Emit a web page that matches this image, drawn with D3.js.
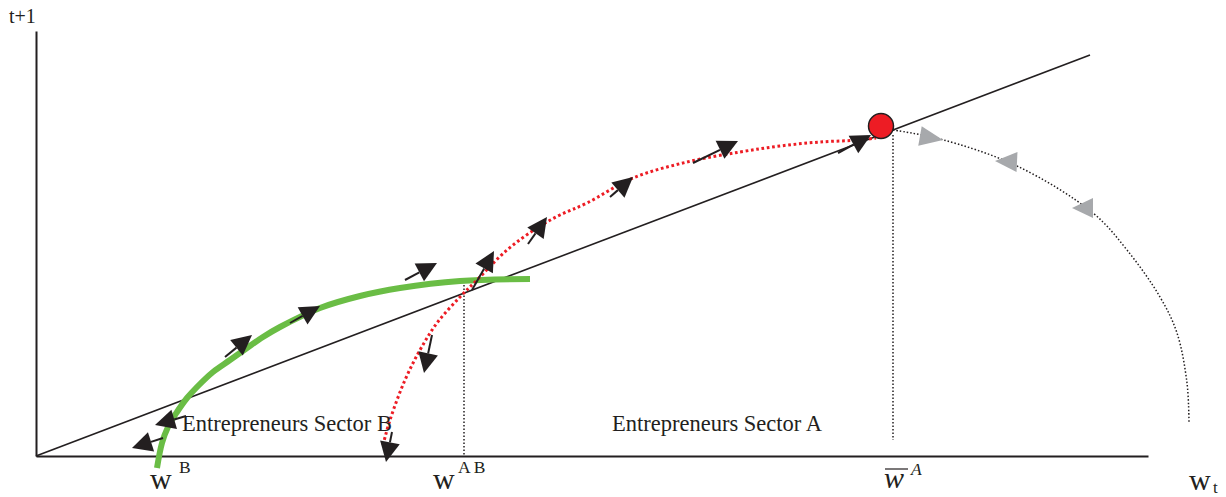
<!DOCTYPE html>
<html><head><meta charset="utf-8">
<script src="https://cdn.jsdelivr.net/npm/d3@7"></script>
<style>body{margin:0;background:#fff}svg{display:block}</style>
</head><body><svg id="c" width="1226" height="497"></svg>
<script>
// ---- data (arbitrary diagram units) ----
const xDomain = [0, 1112];
const yDomain = [0, 425];
const diagonal = [[0, 0], [1054, 401]];
const greenCurve = [[121,-12],[126,13],[132,29],[141,44],[151,58],[161,69],[177,84],[194,96],[211,108],[227,119],[244,129],[284,148],[324,160],[364,168],[424,175],[494,177]];
const redCurve = [[347,11],[354,36],[369,76],[384,106],[401,133],[424,159],[441,176],[471,206],[501,228],[524,241],[551,253],[597,278],[651,294],[704,304],[744,310],[784,314],[824,316],[840,318]];
const grayCurve = [[857,326],[904,317],[981,290],[1057,243],[1091,206],[1124,159],[1141,123],[1151,73],[1153,34]];
const steadyState = [845, 330];
const dropLines = [[[857, 321], [857, 16]], [[428, 171], [428, 0]]];
// [tailX, tailY, tipX, tipY]
const blackArrows = [
  [802,303,835,321],[657,293,702,315],[574,259,597,279],[492,212,511,239],
  [436,166,458,205],[369,176,401,193],[396,121,388,83],[189,99,216,121],
  [254,133,284,150],[150,40,119,31],[127,18,96,8],[356,24,350,-6]
];
// [baseX, baseY, tipX, tipY]
const grayArrows = [[884,320,907,316],[981,294,959,295],[1057,248,1036,248]];
const sectorLabels = ["Entrepreneurs Sector B", "Entrepreneurs Sector A"];

const svg = d3.select("#c");
const x = d3.scaleLinear().domain(xDomain).range([36, 1148]);
const y = d3.scaleLinear().domain(yDomain).range([456, 31]);
const ink = "#231f20";

// axes
const gx = svg.append("g").attr("transform", `translate(0,${y(0)})`)
  .call(d3.axisBottom(x).tickValues([]).tickSizeOuter(0));
const gy = svg.append("g").attr("transform", `translate(${x(0)},0)`)
  .call(d3.axisLeft(y).tickValues([]).tickSizeOuter(0));
[gx, gy].forEach(g => g.select(".domain").attr("stroke", ink).attr("stroke-width", 2));

const line = d3.line().x(d => x(d[0])).y(d => y(d[1]));
const curve = d3.line().x(d => x(d[0])).y(d => y(d[1])).curve(d3.curveCatmullRom.alpha(0.5));

// 45 degree line
svg.append("path").attr("d", line(diagonal)).attr("fill", "none").attr("stroke", ink).attr("stroke-width", 1.6);

// drop lines
dropLines.forEach(dl => svg.append("path").attr("d", line(dl)).attr("fill", "none")
  .attr("stroke", ink).attr("stroke-width", 1.5).attr("stroke-dasharray", "1.5,2"));

// green curve
svg.append("path").attr("d", curve(greenCurve)).attr("fill", "none")
  .attr("stroke", "#6abd45").attr("stroke-width", 6);

// red dotted curve
svg.append("path").attr("d", curve(redCurve)).attr("fill", "none")
  .attr("stroke", "#ed1c24").attr("stroke-width", 3).attr("stroke-dasharray", "2.7,2.7");

// gray dotted curve
svg.append("path").attr("d", curve(grayCurve)).attr("fill", "none")
  .attr("stroke", ink).attr("stroke-width", 1.5).attr("stroke-dasharray", "1.5,2");

function head(px, py, ux, uy, len, hw) {
  const bx = px - ux * len, by = py - uy * len;
  const nx = -uy, ny = ux;
  return { bx, by, pts: [[px, py], [bx + nx * hw, by + ny * hw], [bx - nx * hw, by - ny * hw]] };
}

// black arrows
blackArrows.forEach(a => {
  const tx = x(a[0]), ty = y(a[1]), px = x(a[2]), py = y(a[3]);
  const L = Math.hypot(px - tx, py - ty), ux = (px - tx) / L, uy = (py - ty) / L;
  const h = head(px, py, ux, uy, 20, 10);
  svg.append("line").attr("x1", tx).attr("y1", ty).attr("x2", h.bx).attr("y2", h.by)
    .attr("stroke", ink).attr("stroke-width", 2);
  svg.append("polygon").attr("points", h.pts.map(p => p.join(",")).join(" ")).attr("fill", ink);
});

// gray arrowheads
grayArrows.forEach(a => {
  const bx = x(a[0]), by = y(a[1]), px = x(a[2]), py = y(a[3]);
  const L = Math.hypot(px - bx, py - by), ux = (px - bx) / L, uy = (py - by) / L;
  const h = head(px, py, ux, uy, L, 10);
  svg.append("polygon").attr("points", h.pts.map(p => p.join(",")).join(" ")).attr("fill", "#a7a9ac");
});

// steady state
svg.append("circle").attr("cx", x(steadyState[0])).attr("cy", y(steadyState[1])).attr("r", 12.5)
  .attr("fill", "#ed1c24").attr("stroke", ink).attr("stroke-width", 1.5);

// text
const serif = "Liberation Serif, Times New Roman, serif";
function txt(tx, ty, s, size, extra) {
  const t = svg.append("text").attr("x", tx).attr("y", ty).attr("font-family", serif)
    .attr("font-size", size).attr("fill", ink).text(s);
  if (extra) extra(t);
  return t;
}
txt(182, 431, sectorLabels[0], 22.5);
txt(612, 431, sectorLabels[1], 22.5);
txt(9, 23, "t+1", 20);
// w^B
txt(150, 489, "w", 30);
txt(179, 473, "B", 17.5);
// w^AB
txt(433, 489, "w", 30);
txt(458, 473, "AB", 17.5, t => t.attr("letter-spacing", 3));
// w-bar^A
txt(884, 488, "w", 30, t => t.attr("font-style", "italic"));
svg.append("line").attr("x1", 885).attr("x2", 908).attr("y1", 469).attr("y2", 469).attr("stroke", ink).attr("stroke-width", 1.2);
txt(911, 475, "A", 17.5, t => t.attr("font-style", "italic"));
// w_t
txt(1189, 490, "w", 30);
txt(1213, 493, "t", 17);
</script></body></html>
